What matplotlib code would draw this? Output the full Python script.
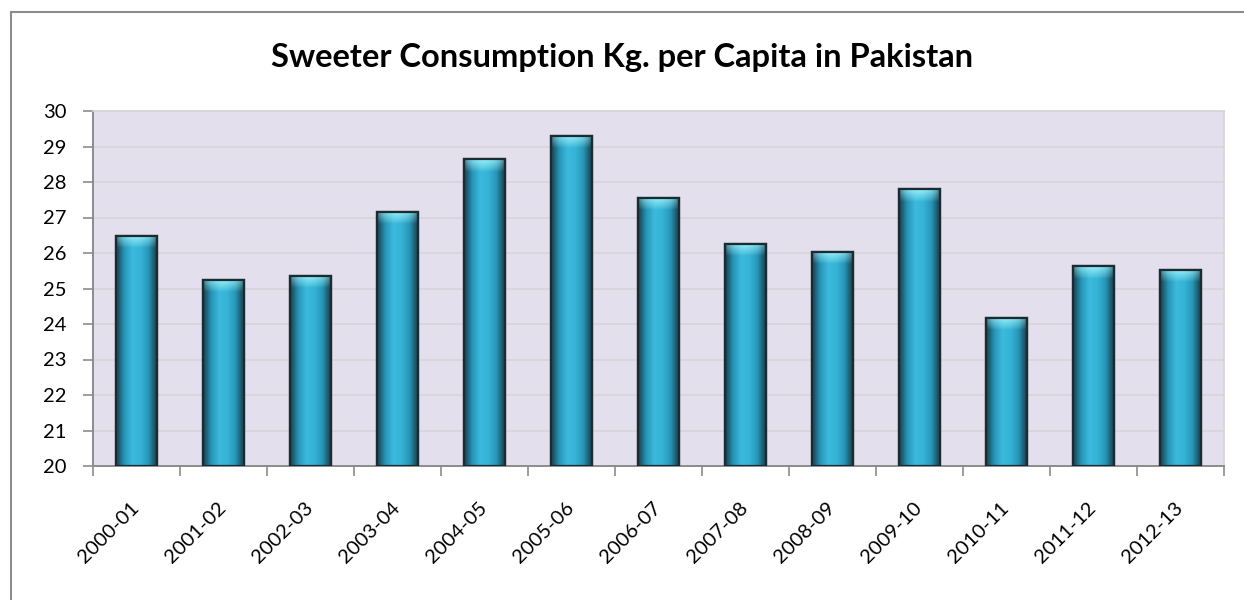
import matplotlib.pyplot as plt
import numpy as np
from matplotlib.patches import Rectangle
from matplotlib.colors import LinearSegmentedColormap, to_rgb

years = ['2000-01', '2001-02', '2002-03', '2003-04', '2004-05', '2005-06', '2006-07',
         '2007-08', '2008-09', '2009-10', '2010-11', '2011-12', '2012-13']
consumption = [26.49, 25.25, 25.35, 27.16, 28.64, 29.30, 27.56,
               26.26, 26.03, 27.80, 24.17, 25.63, 25.53]

plt.rcParams['font.family'] = ['Lato', 'DejaVu Sans']

fig = plt.figure(figsize=(12.44, 6), dpi=100)
# cadre gris autour du graphique
fig.patches.append(Rectangle((11 / 1244, -0.01), 1.0, 1 - 12 / 600 + 0.01,
                             transform=fig.transFigure, fill=False,
                             edgecolor='#8c8c8c', linewidth=1.5))

ax = fig.add_axes([93 / 1244, 1 - 466 / 600, (1224 - 93) / 1244, (466 - 111) / 600])
ax.set_facecolor('#E4DFEC')

x = np.arange(len(years))
bars = ax.bar(x, consumption, width=0.46, color='#33B4D6',
              edgecolor='#1b2b33', linewidth=1.6, zorder=3)

# degradé horizontal sur chaque barre (bords sombres, centre cyan)
cmap = LinearSegmentedColormap.from_list(
    'cyl', ['#1a3f4d', '#2796b8', '#3bbadd', '#36b3d6', '#2796b8', '#1a3f4d'])
grad = np.linspace(0, 1, 64).reshape(1, -1)

# reflet clair en haut de chaque barre
u = np.linspace(0, 1, 48)
v = np.linspace(0, 1, 30).reshape(-1, 1)
horiz = np.clip(1 - np.abs(u - 0.5) / 0.5, 0, 1) ** 0.3
vert = (1 - v) ** 0.9
hl_img = np.zeros((30, 48, 4))
hl_img[..., :3] = to_rgb('#a0f4fa')
hl_img[..., 3] = 0.95 * vert * horiz

for b in bars:
    x0, w, h = b.get_x(), b.get_width(), b.get_height()
    im = ax.imshow(grad, cmap=cmap, aspect='auto', extent=(x0, x0 + w, 20, h),
                   zorder=3.5, interpolation='bicubic')
    im.set_clip_path(b)
    im2 = ax.imshow(hl_img, aspect='auto', extent=(x0, x0 + w, h - 0.35, h),
                    origin='upper', zorder=3.6, interpolation='bilinear')
    im2.set_clip_path(b)
    ax.add_patch(Rectangle((x0, 20), w, h - 20, fill=False, edgecolor='#1b2b33',
                           linewidth=1.6, zorder=4))

ax.set_ylim(20, 30)
ax.set_xlim(-0.5, len(years) - 0.5)
ax.set_yticks(range(20, 31))
ax.yaxis.grid(True, color='#D6D3D9', linewidth=1.2, zorder=0)
ax.set_axisbelow(True)

ax.set_xticks(np.append(x - 0.5, len(years) - 0.5))
ax.set_xticklabels([])
ax.set_xticks(x, minor=True)
ax.set_xticklabels(years, minor=True, rotation=45, ha='right', va='center',
                   rotation_mode='anchor', fontsize=14.5)
ax.tick_params(axis='x', which='minor', length=0, pad=28)
ax.tick_params(axis='x', which='major', length=7, color='#8c8c8c', width=1.2)
ax.tick_params(axis='y', length=7, color='#8c8c8c', width=1.2, labelsize=14.5, pad=12)

for s in ['left', 'bottom']:
    ax.spines[s].set_color('#8c8c8c')
    ax.spines[s].set_linewidth(1.4)
for s in ['top', 'right']:
    ax.spines[s].set_color('#D6D3D9')
    ax.spines[s].set_linewidth(1.2)

fig.text(0.5, 1 - 57 / 600, 'Sweeter Consumption Kg. per Capita in Pakistan',
         ha='center', va='center', fontsize=23.5, fontweight='bold')

fig.savefig('out.png', dpi=100)
